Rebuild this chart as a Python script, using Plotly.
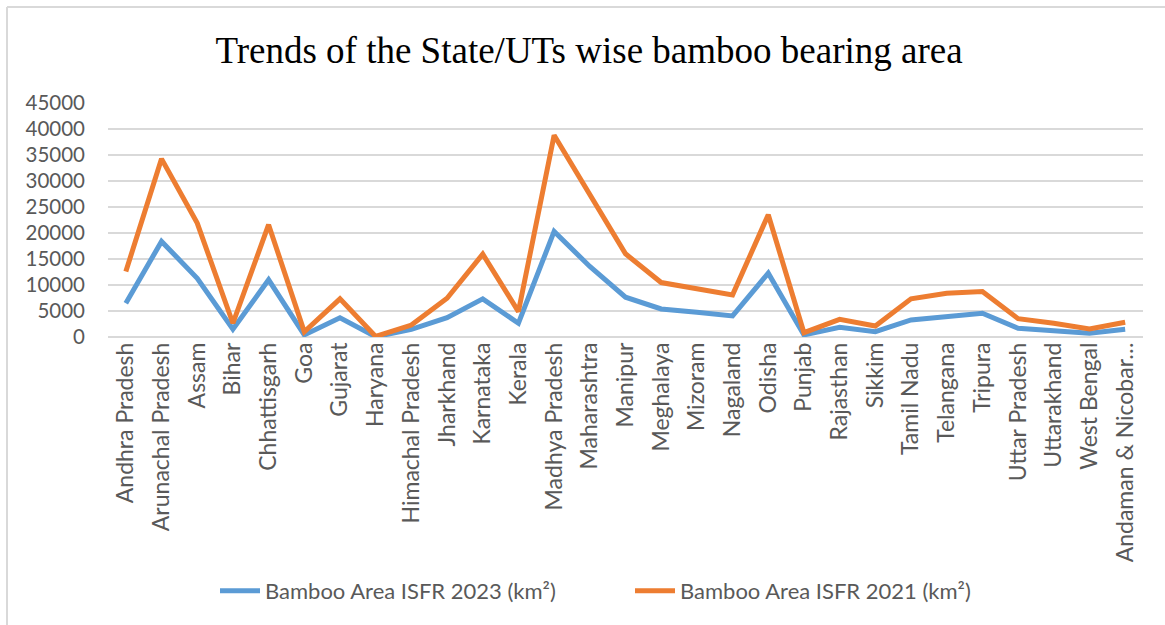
import plotly.graph_objects as go

states = ["Andhra Pradesh", "Arunachal Pradesh", "Assam", "Bihar", "Chhattisgarh", "Goa",
          "Gujarat", "Haryana", "Himachal Pradesh", "Jharkhand", "Karnataka", "Kerala",
          "Madhya Pradesh", "Maharashtra", "Manipur", "Meghalaya", "Mizoram", "Nagaland",
          "Odisha", "Punjab", "Rajasthan", "Sikkim", "Tamil Nadu", "Telangana", "Tripura",
          "Uttar Pradesh", "Uttarakhand", "West Bengal", "Andaman & Nicobar Islands"]
tick_labels = states[:-1] + ["Andaman & Nicobar…"]

area_2023 = [6500, 18380, 11300, 1480, 11000, 400, 3700, 50, 1480, 3720, 7330, 2640,
             20300, 13560, 7650, 5400, 4760, 4050, 12280, 400, 1870, 1030, 3280, 3900,
             4570, 1670, 1220, 710, 1480]
area_2021 = [12600, 34260, 21900, 2640, 21600, 1000, 7330, 100, 2300, 7460, 15940, 4880,
             38800, 27190, 16000, 10470, 9250, 8100, 23520, 830, 3400, 2120, 7330, 8420,
             8740, 3530, 2640, 1540, 2830]

W, H = 1165, 625
ML, MR, MT, MB = 108, 22, 103, 288
PW, PH = W - ML - MR, H - MT - MB

def px_x(p):
    return (p - ML) / PW

def px_y(p):
    return (H - MB - p) / PH

fig = go.Figure()
fig.add_trace(go.Scatter(x=states, y=area_2023, mode="lines", name="Bamboo Area ISFR 2023 (km²)",
                         line=dict(color="#5B9BD5", width=5)))
fig.add_trace(go.Scatter(x=states, y=area_2021, mode="lines", name="Bamboo Area ISFR 2021 (km²)",
                         line=dict(color="#ED7D31", width=5)))

fig.update_layout(
    width=W, height=H,
    margin=dict(l=ML, r=MR, t=MT, b=MB, pad=0),
    paper_bgcolor="white", plot_bgcolor="white",
    title=dict(text="Trends of the State/UTs wise bamboo bearing area",
               font=dict(family="Liberation Serif", size=37, color="black"),
               x=px_x(589), xref="paper", xanchor="center",
               y=1 - 50 / H, yref="container", yanchor="middle"),
    font=dict(family="Lato", color="#595959"),
    showlegend=True,
    legend=dict(orientation="h", x=px_x(215), xanchor="left", xref="paper",
                y=px_y(591), yanchor="middle", yref="paper",
                font=dict(size=22, color="#595959"), itemwidth=40,
                entrywidth=360, entrywidthmode="pixels",
                traceorder="normal"),
    xaxis=dict(type="category", range=[-0.5, len(states) - 0.5],
               tickmode="array", tickvals=states, ticktext=tick_labels,
               tickangle=-90, tickfont=dict(size=23, color="#595959"),
               showgrid=False, showline=False, zeroline=False, ticks=""),
    yaxis=dict(range=[0, 45000], dtick=5000, tickformat="d",
               tickfont=dict(size=20.5, color="#595959"),
               showgrid=True, gridcolor="#d9d9d9", gridwidth=1.5,
               zeroline=True, zerolinecolor="#d9d9d9", zerolinewidth=1.5,
               showline=False, ticks="", ticklabelstandoff=22),
    shapes=[
        dict(type="line", xref="paper", yref="paper",
             x0=px_x(7), x1=px_x(W + 5), y0=px_y(7), y1=px_y(7),
             line=dict(color="#d9d9d9", width=2)),
        dict(type="line", xref="paper", yref="paper",
             x0=px_x(7), x1=px_x(7), y0=px_y(7), y1=px_y(H + 5),
             line=dict(color="#d9d9d9", width=2)),
    ],
)

fig.write_html("out.html")
